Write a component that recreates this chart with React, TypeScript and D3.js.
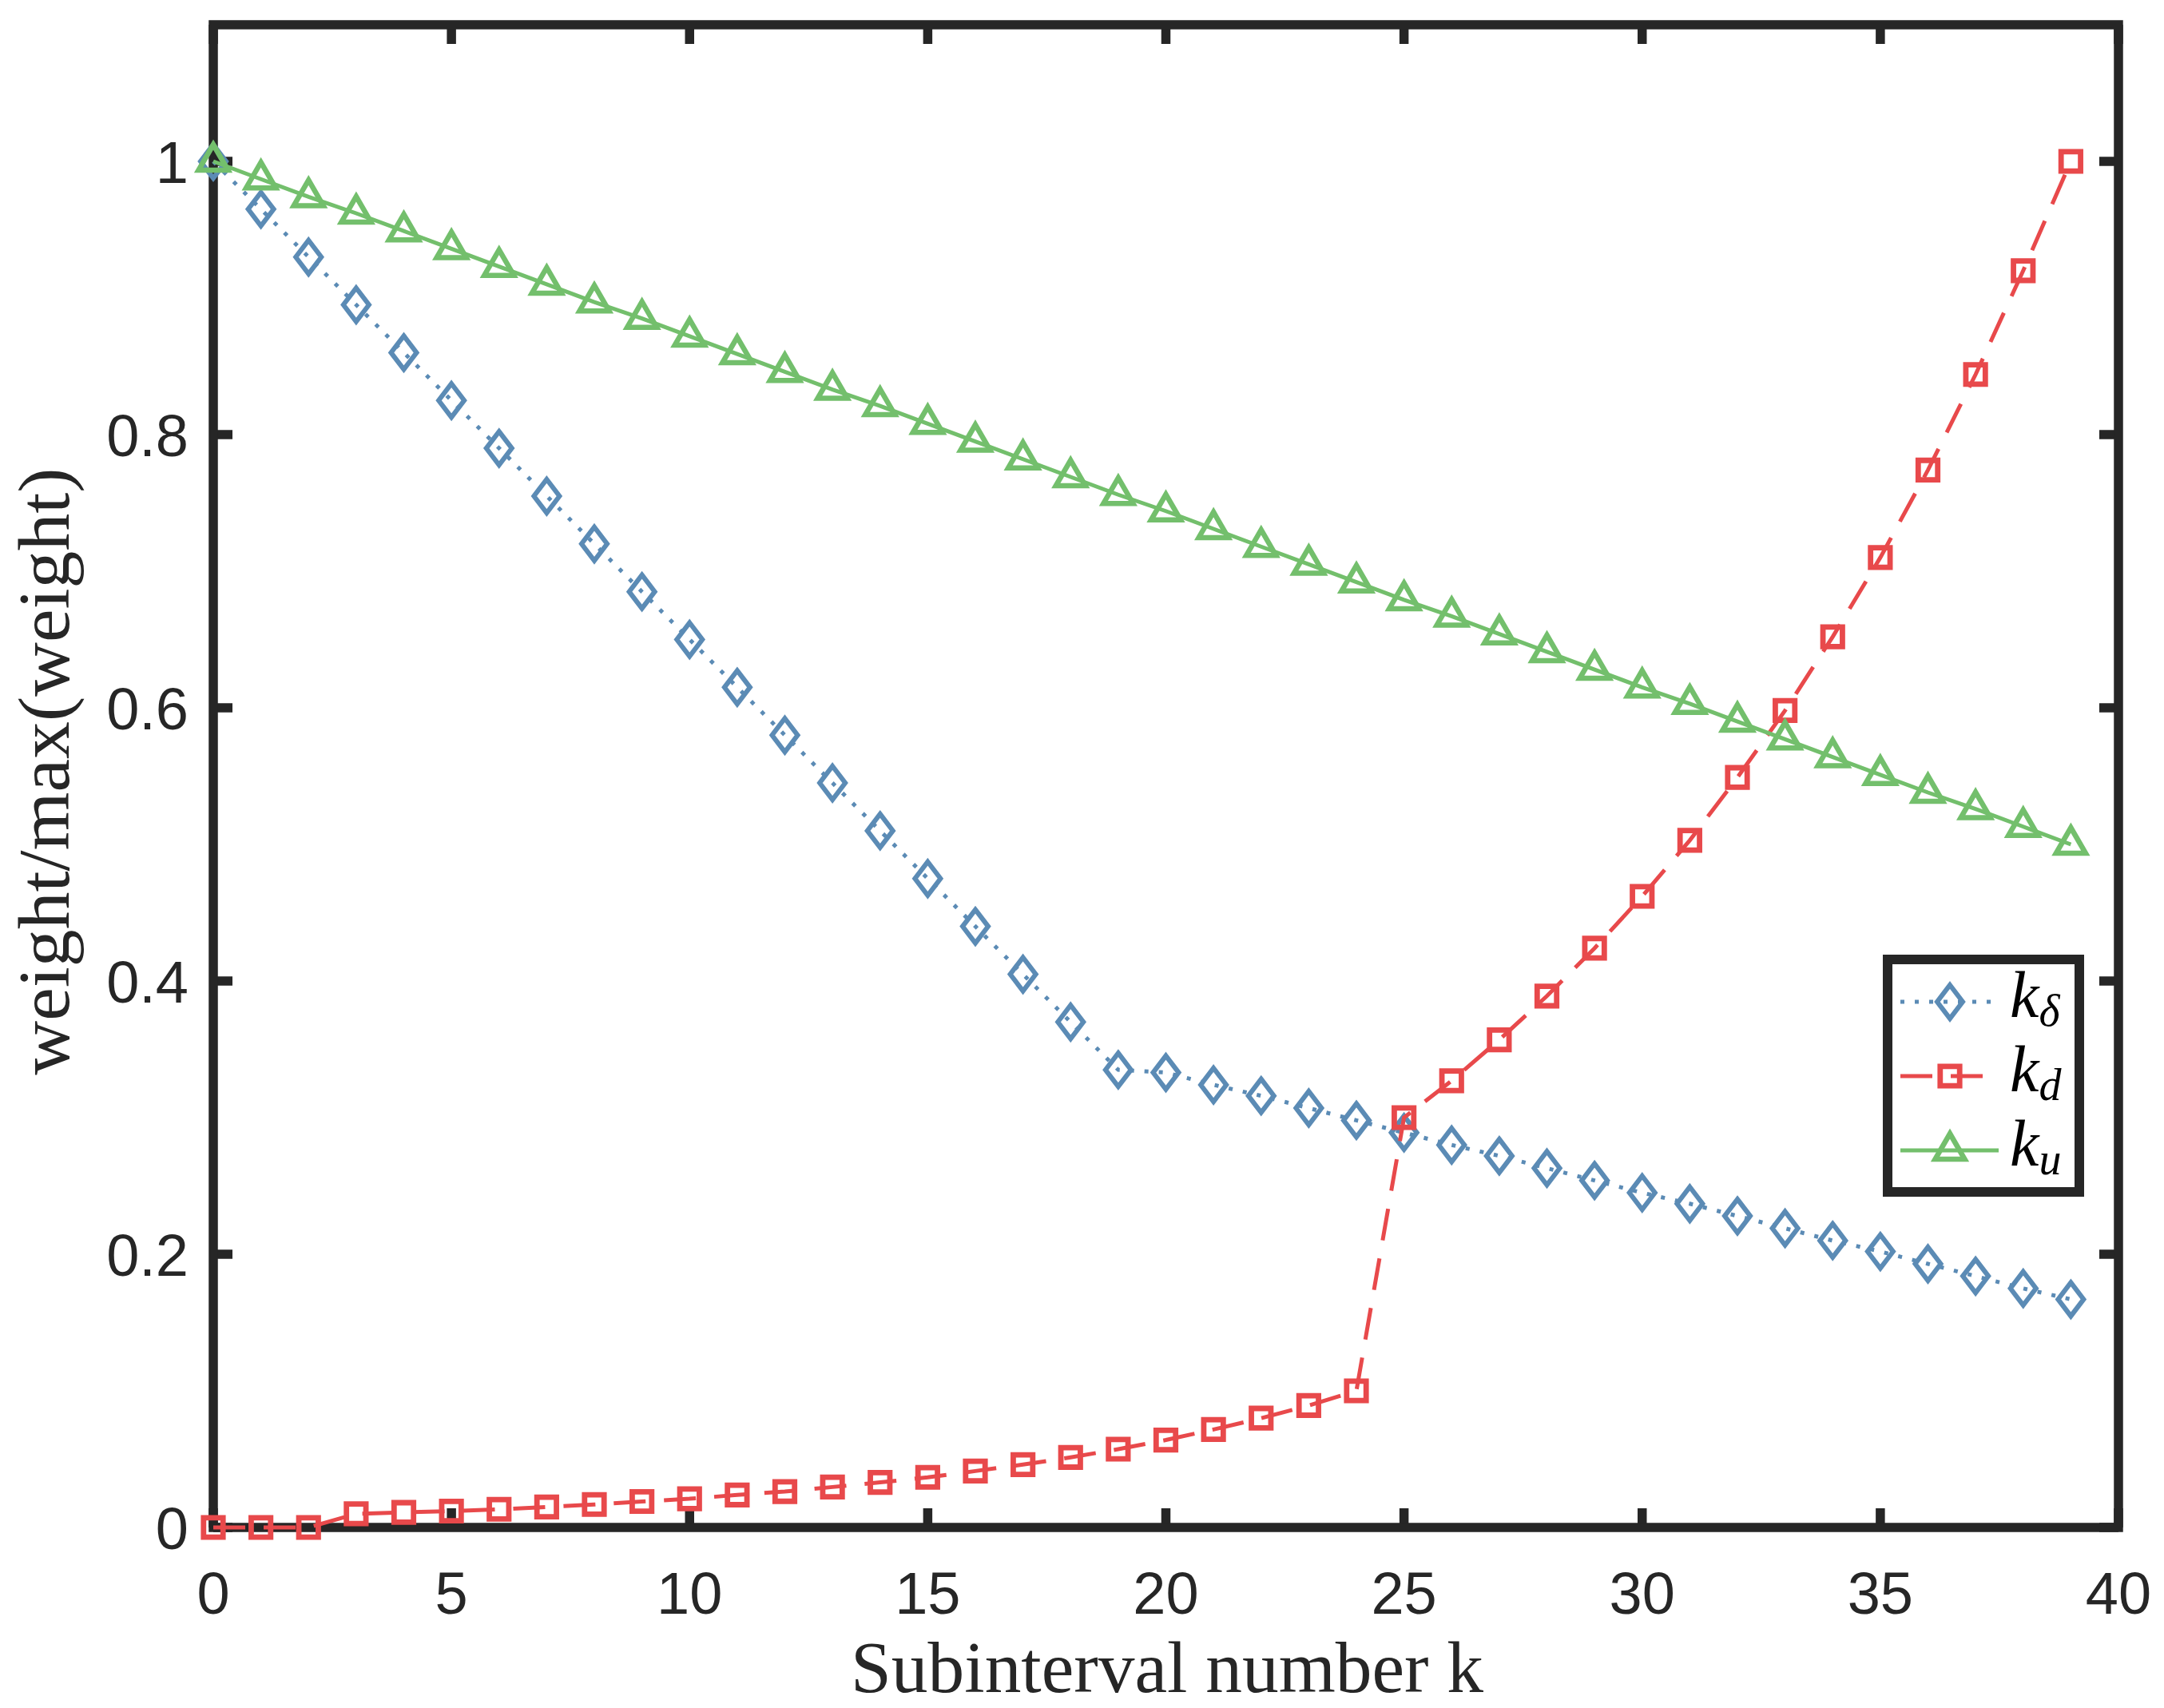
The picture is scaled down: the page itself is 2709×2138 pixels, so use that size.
import React, { useEffect } from "react";
import * as d3 from "d3";

// weights per subinterval k = 0..39
const kDelta = [
  1.0, 0.965, 0.93, 0.895, 0.86, 0.825, 0.79, 0.755, 0.72, 0.685,
  0.65, 0.615, 0.58, 0.545, 0.51, 0.475, 0.44, 0.405, 0.37, 0.335,
  0.333, 0.324, 0.316, 0.307, 0.298, 0.289, 0.28, 0.272, 0.263, 0.254,
  0.245, 0.237, 0.228, 0.219, 0.21, 0.202, 0.193, 0.184, 0.175, 0.167,
];
const kD = [
  0, 0, 0, 0.01, 0.011, 0.012, 0.0133, 0.015, 0.0168, 0.019,
  0.021, 0.0238, 0.0263, 0.0296, 0.033, 0.0367, 0.0413, 0.046, 0.0513, 0.0573,
  0.064, 0.0717, 0.08, 0.0893, 0.1, 0.3, 0.327, 0.357, 0.389, 0.424,
  0.462, 0.503, 0.549, 0.598, 0.652, 0.71, 0.774, 0.844, 0.92, 1.0,
];
const kU = [
  1.0, 0.987, 0.974, 0.962, 0.949, 0.936, 0.923, 0.91, 0.897, 0.885,
  0.872, 0.859, 0.846, 0.833, 0.821, 0.808, 0.795, 0.782, 0.769, 0.756,
  0.744, 0.731, 0.718, 0.705, 0.692, 0.679, 0.667, 0.654, 0.641, 0.628,
  0.615, 0.603, 0.59, 0.577, 0.564, 0.551, 0.538, 0.526, 0.513, 0.5,
];

const xTicks = [0, 5, 10, 15, 20, 25, 30, 35, 40];
const yTicks = [0, 0.2, 0.4, 0.6, 0.8, 1];
const yTickLabels = ["0", "0.2", "0.4", "0.6", "0.8", "1"];

const legendNames = ["δ", "d", "u"];

const W = 2709;
const H = 2138;
const AX = "#262626";
const BLUE = "#5b8bb5";
const RED = "#e8494b";
const GREEN = "#73bf6c";

const diamond = "M0,-21L16,0L0,21L-16,0Z";
const square = "M-12.2,-12.2H12.2V12.2H-12.2Z";
const triangle = "M0,-21L18.5,11L-18.5,11Z";

const series = [
  { name: "δ", values: kDelta, color: BLUE, dash: "5,13", marker: diamond, mw: 6 },
  { name: "d", values: kD, color: RED, dash: "40,23", marker: square, mw: 6.8 },
  { name: "u", values: kU, color: GREEN, dash: null, marker: triangle, mw: 6.5 },
];

const App: React.FC = () => {
  useEffect(() => {
    document.body.style.margin = "0";
  }, []);

  const x = d3.scaleLinear().domain([0, 40]).range([267, 2652]);
  const y = d3.scaleLinear().domain([0, 1.1]).range([1912, 31]);

  const line = d3
    .line<number>()
    .x((_, i) => x(i))
    .y((d) => y(d));

  const [x0, x1] = x.range();
  const [y0, y1] = y.range();
  const tickLen = 24;
  const axisW = 11.5;
  const tickFont = "'Liberation Sans', Arial, Helvetica, sans-serif";
  const labelFont = "'Liberation Serif', 'Times New Roman', serif";

  // legend geometry
  const lg = { left: 2363, top: 1201, right: 2603, bottom: 1492 };
  const rowY = [1254, 1347, 1440];

  return (
    <svg width={W} height={H} style={{ display: "block", background: "#fff" }}>
      <rect x={0} y={0} width={W} height={H} fill="#fff" />

      {/* ticks (inside, mirrored) */}
      <g stroke={AX} strokeWidth={axisW}>
        {xTicks.map((t) => (
          <g key={"xt" + t}>
            <line x1={x(t)} x2={x(t)} y1={y0} y2={y0 - tickLen} />
            <line x1={x(t)} x2={x(t)} y1={y1} y2={y1 + tickLen} />
          </g>
        ))}
        {yTicks.map((t) => (
          <g key={"yt" + t}>
            <line x1={x0} x2={x0 + tickLen} y1={y(t)} y2={y(t)} />
            <line x1={x1} x2={x1 - tickLen} y1={y(t)} y2={y(t)} />
          </g>
        ))}
      </g>
      <rect
        x={x0}
        y={y1}
        width={x1 - x0}
        height={y0 - y1}
        fill="none"
        stroke={AX}
        strokeWidth={axisW}
        strokeLinejoin="miter"
      />

      {/* tick labels */}
      <g fill={AX} fontFamily={tickFont} fontSize={74}>
        {xTicks.map((t) => (
          <text key={"xl" + t} x={x(t)} y={2020} textAnchor="middle">
            {t}
          </text>
        ))}
        {yTicks.map((t, i) => (
          <text key={"yl" + t} x={236} y={y(t) + 27} textAnchor="end">
            {yTickLabels[i]}
          </text>
        ))}
      </g>

      {/* axis labels */}
      <text
        x={1461}
        y={2118}
        textAnchor="middle"
        fontFamily={labelFont}
        fontSize={90}
        fill={AX}
        textLength={792}
        lengthAdjust="spacingAndGlyphs"
      >
        Subinterval number k
      </text>
      <text
        transform={`translate(86,${(y0 + y1) / 2 - 6}) rotate(-90)`}
        textAnchor="middle"
        fontFamily={labelFont}
        fontSize={90}
        fill={AX}
        textLength={760}
        lengthAdjust="spacingAndGlyphs"
      >
        weight/max(weight)
      </text>

      {/* series */}
      {series.map((s) => (
        <g key={s.name}>
          <path
            d={line(s.values) || ""}
            fill="none"
            stroke={s.color}
            strokeWidth={5}
            strokeDasharray={s.dash || undefined}
          />
          {s.values.map((v, i) => (
            <path
              key={i}
              d={s.marker}
              transform={`translate(${x(i)},${y(v)})`}
              fill="none"
              stroke={s.color}
              strokeWidth={s.mw}
            />
          ))}
        </g>
      ))}

      {/* legend */}
      <rect
        x={lg.left}
        y={lg.top}
        width={lg.right - lg.left}
        height={lg.bottom - lg.top}
        fill="#fff"
        stroke={AX}
        strokeWidth={12}
      />
      {series.map((s, i) => (
        <g key={"lg" + s.name}>
          <line
            x1={2379}
            x2={2502}
            y1={rowY[i]}
            y2={rowY[i]}
            stroke={s.color}
            strokeWidth={5}
            strokeDasharray={s.dash || undefined}
          />
          <path
            d={s.marker}
            transform={`translate(2441,${rowY[i]})`}
            fill="none"
            stroke={s.color}
            strokeWidth={s.mw}
          />
          <text
            x={2516}
            y={rowY[i] + 19}
            fontFamily={labelFont}
            fontStyle="italic"
            fontSize={82}
            fill="#000"
          >
            k
            <tspan fontSize={56} dy={11}>
              {legendNames[i]}
            </tspan>
          </text>
        </g>
      ))}
    </svg>
  );
};

export default App;
